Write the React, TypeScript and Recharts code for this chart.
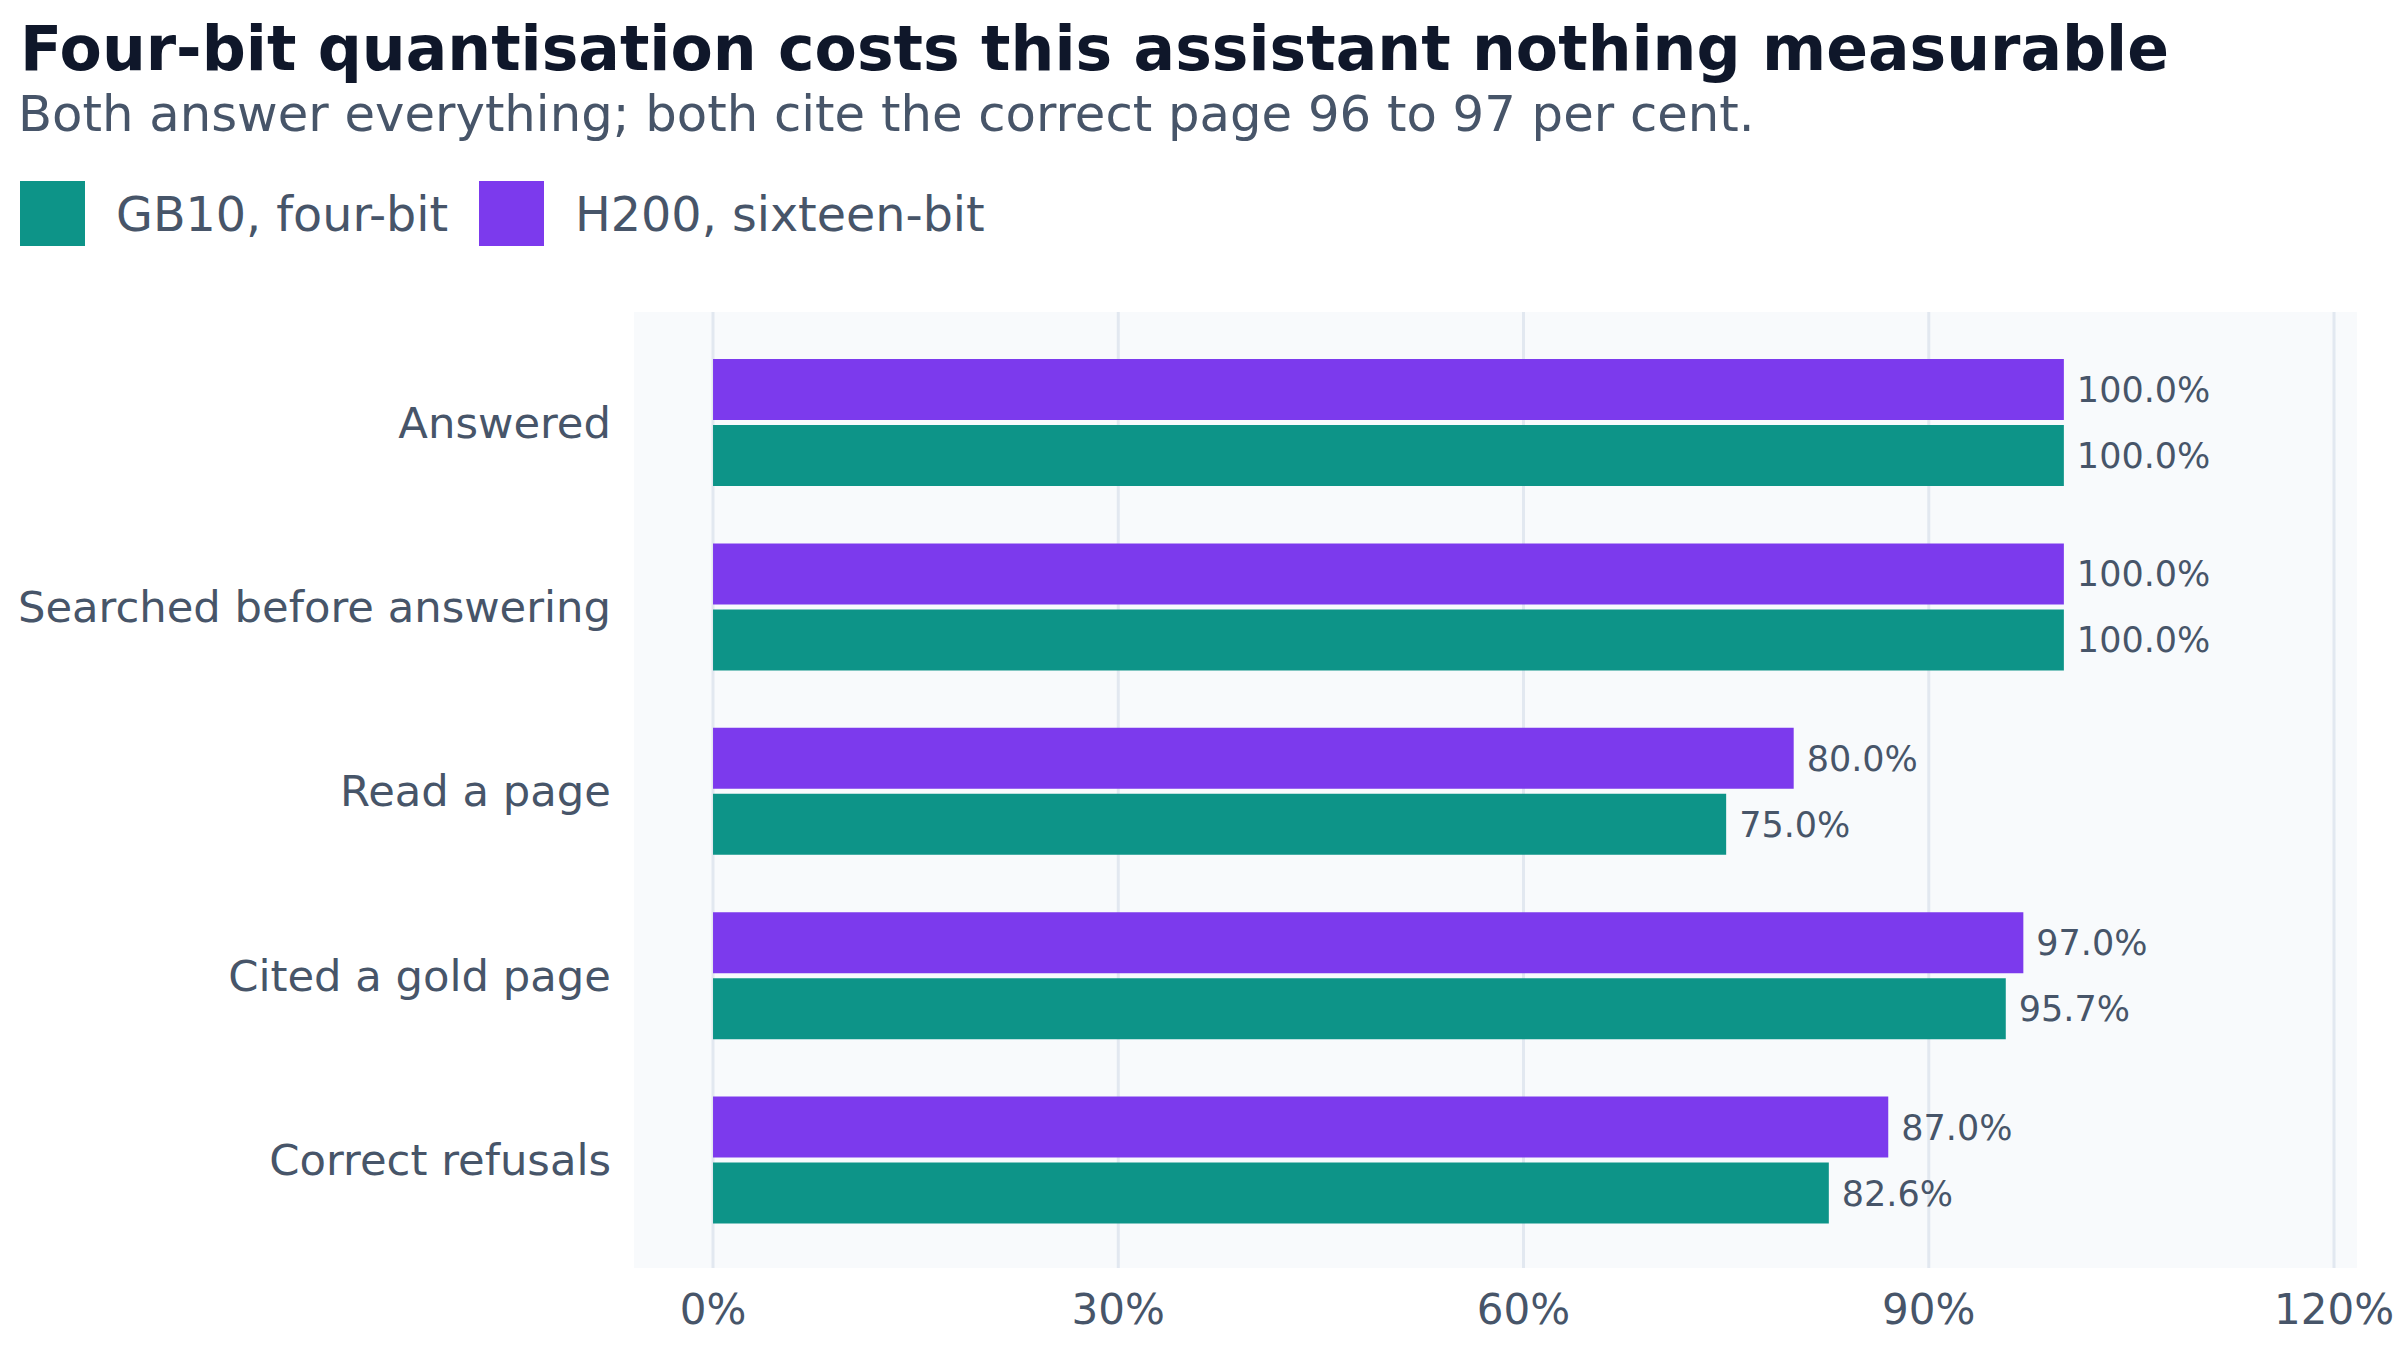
import React from 'react';
import { BarChart, Bar, CartesianGrid, LabelList, XAxis, YAxis } from 'recharts';

const categories = ['Answered', 'Searched before answering', 'Read a page', 'Cited a gold page', 'Correct refusals'];
const gb10Values = [100, 100, 75, 95.7, 82.6];
const h200Values = [100, 100, 80, 97, 87];
const xTicks = [0, 30, 60, 90, 120];

const TEAL = '#0d9488';
const VIOLET = '#7c3aed';
const INK = '#0f172a';
const SLATE = '#475569';
const FONT = '"DejaVu Sans", sans-serif';

const W = 2400;
const H = 1350;

const chartData = categories.map((name, i) => ({ name, gb10: gb10Values[i], h200: h200Values[i] }));

const pct = (v: unknown) => (v == null ? '' : `${Number(v).toFixed(1)}%`);

function Header() {
  return (
    <svg width={W} height={260} style={{ position: 'absolute', left: 0, top: 0, pointerEvents: 'none' }}>
      <text x={20} y={70} fontFamily={FONT} fontWeight="bold" fontSize={61.6} fill={INK}>
        Four-bit quantisation costs this assistant nothing measurable
      </text>
      <text x={18} y={131} fontFamily={FONT} fontSize={49.7} fill={SLATE}>
        Both answer everything; both cite the correct page 96 to 97 per cent.
      </text>
      <rect x={20} y={181} width={65} height={65} fill={TEAL} />
      <text x={116} y={231} fontFamily={FONT} fontSize={47.6} fill={SLATE}>
        GB10, four-bit
      </text>
      <rect x={479} y={181} width={65} height={65} fill={VIOLET} />
      <text x={575} y={231} fontFamily={FONT} fontSize={47.6} fill={SLATE}>
        H200, sixteen-bit
      </text>
    </svg>
  );
}

export default function App() {
  return (
    <div style={{ position: 'absolute', left: 0, top: 0, width: W, height: H, background: '#ffffff' }}>
      <BarChart
        width={W}
        height={H}
        data={chartData}
        layout="vertical"
        margin={{ top: 312, right: 43, bottom: 0, left: 0 }}
        barSize={61}
        barGap={5}
      >
        <CartesianGrid horizontal={false} syncWithTicks fill="#f8fafc" stroke="#e2e8f0" strokeWidth={3} />
        <XAxis
          type="number"
          domain={[-5.85, 121.7]}
          ticks={xTicks}
          allowDataOverflow
          tickFormatter={(v: number) => `${v}%`}
          axisLine={false}
          tickLine={false}
          tickSize={0}
          tickMargin={26}
          height={82}
          tick={{ fontSize: 42, fill: SLATE, fontFamily: FONT }}
        />
        <YAxis
          type="category"
          dataKey="name"
          width={634}
          axisLine={false}
          tickLine={false}
          tickSize={0}
          tickMargin={23}
          padding={{ top: 18, bottom: 16 }}
          tick={{ fontSize: 43.3, fill: SLATE, fontFamily: FONT }}
        />
        <Bar dataKey="h200" fill={VIOLET} isAnimationActive={false}>
          <LabelList dataKey="h200" position="right" offset={13} formatter={pct} style={{ fontSize: 35, fill: SLATE, fontFamily: FONT }} />
        </Bar>
        <Bar dataKey="gb10" fill={TEAL} isAnimationActive={false}>
          <LabelList dataKey="gb10" position="right" offset={13} formatter={pct} style={{ fontSize: 35, fill: SLATE, fontFamily: FONT }} />
        </Bar>
      </BarChart>
      <Header />
    </div>
  );
}
